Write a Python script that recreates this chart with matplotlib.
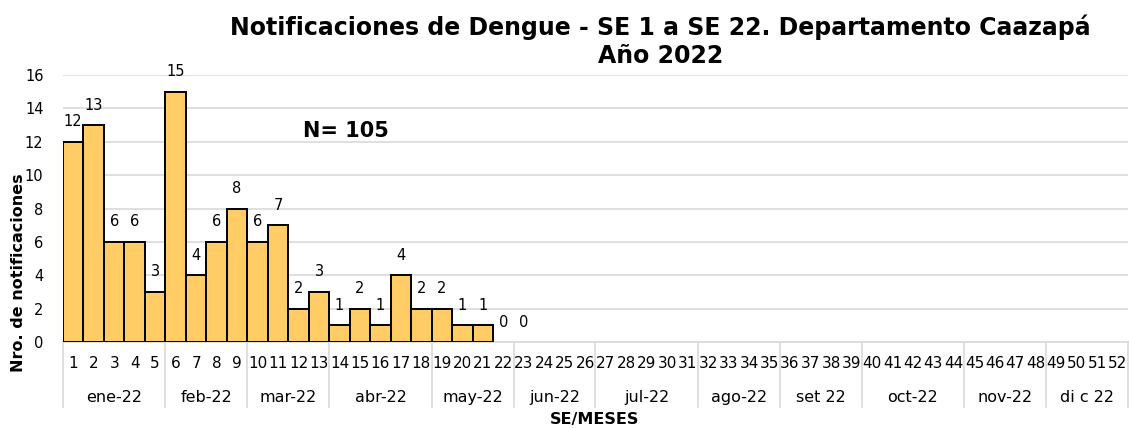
import matplotlib
matplotlib.use('Agg')
import matplotlib.pyplot as plt
from matplotlib.transforms import blended_transform_factory

# semanas epidemiologicas 1..52, datos hasta SE 23
weeks = list(range(1, 53))
cases = [12, 13, 6, 6, 3, 15, 4, 6, 8, 6, 7, 2, 3, 1, 2, 1, 4, 2, 2, 1, 1, 0, 0]
months = ["ene-22", "feb-22", "mar-22", "abr-22", "may-22", "jun-22",
          "jul-22", "ago-22", "set 22", "oct-22", "nov-22", "di c 22"]
weeks_per_month = [5, 4, 4, 5, 4, 4, 5, 4, 4, 5, 4, 4]

plt.rcParams['font.family'] = 'DejaVu Sans'
fig = plt.figure(figsize=(11.29, 4.28), dpi=100)
ax = fig.add_axes([0.0558, 0.2009, 0.9433, 0.6238])

x = weeks[:len(cases)]
lws = [1.4 if v > 0 else 0 for v in cases]
bars = ax.bar(x, cases, width=1.0, color='#FFCC66', edgecolor='black', linewidth=lws, zorder=3)
ax.bar_label(bars, labels=[str(v) for v in cases], padding=9, fontsize=10.5)

ax.set_xlim(0.5, 52.5)
ax.set_ylim(0, 16)
ax.set_yticks(range(0, 17, 2))
ax.tick_params(axis='y', length=0, labelsize=10.5, pad=14)
ax.set_xticks([])
ax.grid(axis='y', color='#D9D9D9', linewidth=1.2, zorder=0)
for s in ['top', 'right', 'left']:
    ax.spines[s].set_visible(False)
ax.spines['bottom'].set_color('#D9D9D9')
ax.spines['bottom'].set_linewidth(1.2)

trans = blended_transform_factory(ax.transData, ax.transAxes)
for w in weeks:
    ax.text(w, -0.08, str(w), transform=trans, ha='center', va='center', fontsize=11)

start = 0.5
for m, n in zip(months, weeks_per_month):
    ax.plot([start, start], [0, -0.243], transform=trans, color='#D9D9D9', lw=1.2, clip_on=False)
    ax.text(start + n / 2, -0.206, m, transform=trans, ha='center', va='center', fontsize=11.5)
    start += n
ax.plot([start, start], [0, -0.243], transform=trans, color='#D9D9D9', lw=1.2, clip_on=False)

fig.text(0.527, 0.019, "SE/MESES", ha='center', va='center', fontsize=11.5, fontweight='bold')
fig.text(0.016, 0.362, "Nro. de notificaciones", rotation=90, ha='center', va='center',
         fontsize=11.5, fontweight='bold')
ax.text(12.2, 12.64, "N= 105", ha='left', va='center', fontsize=15, fontweight='bold')
fig.text(0.585, 0.904, "Notificaciones de Dengue - SE 1 a SE 22. Departamento Caazapá\nAño 2022",
         ha='center', va='center', fontsize=17, fontweight='bold')

fig.savefig('out.png', dpi=100)
